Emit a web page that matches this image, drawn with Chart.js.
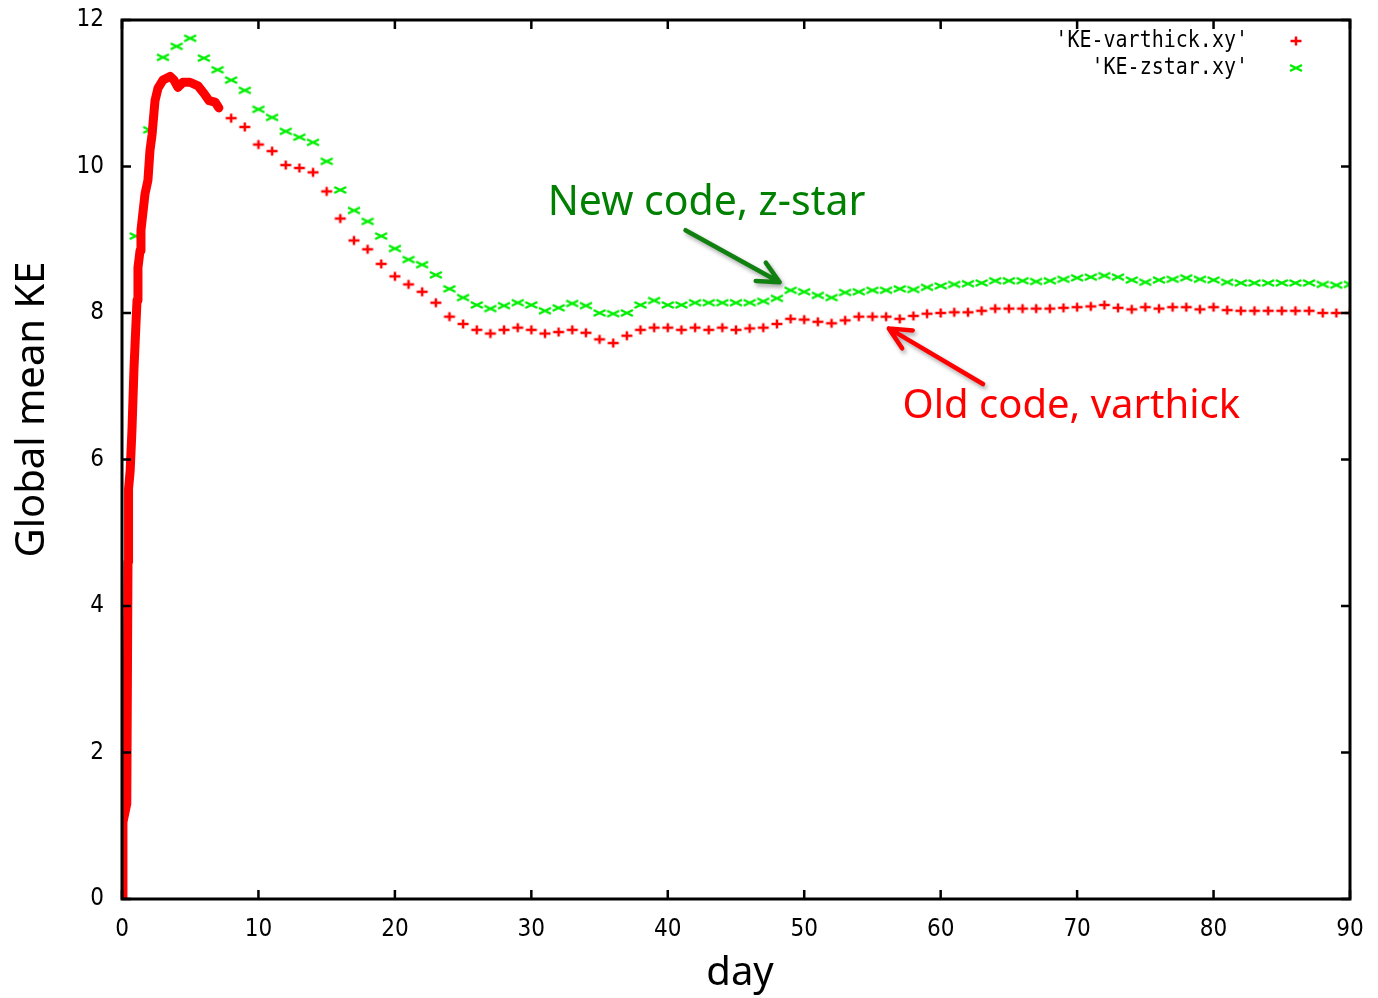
<!DOCTYPE html>
<html>
<head>
<meta charset="utf-8">
<script src="https://cdn.jsdelivr.net/npm/chart.js@4.4.1/dist/chart.umd.min.js"></script>
<style>
html, body { margin: 0; padding: 0; background: #fff; }
#wrap { width: 1378px; height: 998px; }
</style>
</head>
<body>
<div id="wrap"><canvas id="ke_chart" width="1378" height="998"></canvas></div>
<script>
// 'KE-zstar.xy' - one sample per day
const zstarDays = [1, 2, 3, 4, 5, 6, 7, 8, 9, 10, 11, 12, 13, 14, 15, 16, 17, 18, 19, 20,
    21, 22, 23, 24, 25, 26, 27, 28, 29, 30, 31, 32, 33, 34, 35, 36, 37, 38, 39, 40,
    41, 42, 43, 44, 45, 46, 47, 48, 49, 50, 51, 52, 53, 54, 55, 56, 57, 58, 59, 60,
    61, 62, 63, 64, 65, 66, 67, 68, 69, 70, 71, 72, 73, 74, 75, 76, 77, 78, 79, 80,
    81, 82, 83, 84, 85, 86, 87, 88, 89, 90];
const zstarKE = [9.05, 10.5, 11.49, 11.64, 11.75, 11.48, 11.32, 11.18, 11.04, 10.78,
    10.67, 10.48, 10.40, 10.33, 10.07, 9.68, 9.40, 9.25, 9.05, 8.88,
    8.73, 8.66, 8.52, 8.33, 8.21, 8.11, 8.06, 8.10, 8.14, 8.11,
    8.03, 8.07, 8.13, 8.10, 8.00, 7.99, 8.00, 8.11, 8.17, 8.11,
    8.11, 8.14, 8.14, 8.14, 8.14, 8.14, 8.16, 8.20, 8.31, 8.29,
    8.24, 8.21, 8.28, 8.29, 8.31, 8.31, 8.33, 8.32, 8.35, 8.37,
    8.39, 8.40, 8.41, 8.44, 8.44, 8.44, 8.43, 8.44, 8.46, 8.48,
    8.49, 8.51, 8.49, 8.45, 8.42, 8.45, 8.46, 8.48, 8.46, 8.45,
    8.42, 8.41, 8.41, 8.41, 8.41, 8.41, 8.41, 8.39, 8.38, 8.39];

// 'KE-varthick.xy' - dense output over the first week
const varthickEarlyDays = [0.05, 0.07, 0.35, 0.44, 0.48, 0.6, 0.73, 0.88, 1.1, 1.17,
    1.32, 1.39, 1.69, 1.9, 2.05, 2.2, 2.42, 2.64, 3.0, 3.52,
    3.81, 4.1, 4.47, 4.98, 5.57, 6.0, 6.38, 6.82, 7.1];
const varthickEarlyKE = [0, 1.05, 1.3, 4.6, 5.6, 5.85, 6.4, 7.25, 8.17, 8.62,
    8.85, 9.13, 9.63, 9.81, 10.22, 10.43, 10.9, 11.07, 11.18, 11.23,
    11.18, 11.08, 11.15, 11.15, 11.1, 11.0, 10.9, 10.88, 10.8];

// 'KE-varthick.xy' - daily from day 8
const varthickDays = [8, 9, 10, 11, 12, 13, 14, 15, 16, 17, 18, 19, 20,
    21, 22, 23, 24, 25, 26, 27, 28, 29, 30, 31, 32, 33, 34, 35, 36, 37, 38, 39, 40,
    41, 42, 43, 44, 45, 46, 47, 48, 49, 50, 51, 52, 53, 54, 55, 56, 57, 58, 59, 60,
    61, 62, 63, 64, 65, 66, 67, 68, 69, 70, 71, 72, 73, 74, 75, 76, 77, 78, 79, 80,
    81, 82, 83, 84, 85, 86, 87, 88, 89, 90];
const varthickKE = [10.66, 10.54, 10.30, 10.21, 10.02, 9.98, 9.92, 9.66, 9.29, 8.99, 8.87, 8.67, 8.50,
    8.39, 8.29, 8.14, 7.95, 7.85, 7.77, 7.72, 7.77, 7.80, 7.77,
    7.72, 7.74, 7.77, 7.73, 7.64, 7.59, 7.69, 7.77, 7.80, 7.80,
    7.77, 7.80, 7.77, 7.80, 7.77, 7.79, 7.80, 7.85, 7.92, 7.91,
    7.88, 7.86, 7.90, 7.95, 7.95, 7.95, 7.92, 7.96, 7.99, 8.00,
    8.01, 8.01, 8.03, 8.06, 8.06, 8.06, 8.06, 8.06, 8.07, 8.08,
    8.09, 8.11, 8.07, 8.05, 8.08, 8.06, 8.08, 8.08, 8.05, 8.08,
    8.04, 8.03, 8.03, 8.03, 8.03, 8.03, 8.03, 8.00, 8.00, 8.00];

const legendLabels = ["'KE-varthick.xy'", "'KE-zstar.xy'"];

const RED = '#ff0000';
const GREEN = '#00ee00';
const tickFont = {family: "'Liberation Sans Narrow', 'DejaVu Sans Condensed', 'Liberation Sans', sans-serif", size: 24};

function makeMarker(kind, color) {
    let c = document.createElement('canvas');
    c.width = 14;
    c.height = 12;
    let g = c.getContext('2d');
    g.strokeStyle = color;
    g.lineWidth = 2.5;
    g.beginPath();
    if (kind === 'plus') {
        g.moveTo(1.5, 6); g.lineTo(12.5, 6);
        g.moveTo(7, 1.5); g.lineTo(7, 10.5);
    } else {
        g.moveTo(1, 3); g.lineTo(13, 9);
        g.moveTo(1, 9); g.lineTo(13, 3);
    }
    g.stroke();
    return c;
}
const plusMark = makeMarker('plus', RED);
const crossMark = makeMarker('cross', GREEN);

function pairs(xs, ys) {
    return xs.map((d, i) => ({x: d, y: ys[i]}));
}

function arrow(ctx, x0, y0, x1, y1, color) {
    let ang = Math.atan2(y1 - y0, x1 - x0);
    let len = 24, spread = 0.45;
    ctx.save();
    ctx.strokeStyle = color;
    ctx.lineWidth = 4.5;
    ctx.lineCap = 'round';
    ctx.lineJoin = 'round';
    ctx.shadowColor = 'rgba(0,0,0,0.35)';
    ctx.shadowBlur = 4;
    ctx.shadowOffsetX = 2;
    ctx.shadowOffsetY = 3;
    ctx.beginPath();
    ctx.moveTo(x0, y0);
    ctx.lineTo(x1, y1);
    ctx.moveTo(x1 - len * Math.cos(ang - spread), y1 - len * Math.sin(ang - spread));
    ctx.lineTo(x1, y1);
    ctx.lineTo(x1 - len * Math.cos(ang + spread), y1 - len * Math.sin(ang + spread));
    ctx.stroke();
    ctx.restore();
}

const decor = {
    id: 'decor',
    afterDatasetsDraw(chart) {
        let ctx = chart.ctx;
        let a = chart.chartArea;
        let x = chart.scales.x, y = chart.scales.y;
        ctx.save();
        // inward ticks on all four sides
        ctx.strokeStyle = '#000';
        ctx.lineWidth = 2.5;
        ctx.beginPath();
        x.ticks.forEach(t => {
            let px = x.getPixelForValue(t.value);
            ctx.moveTo(px, a.bottom); ctx.lineTo(px, a.bottom - 9);
            ctx.moveTo(px, a.top); ctx.lineTo(px, a.top + 9);
        });
        y.ticks.forEach(t => {
            let py = y.getPixelForValue(t.value);
            ctx.moveTo(a.left, py); ctx.lineTo(a.left + 9, py);
            ctx.moveTo(a.right, py); ctx.lineTo(a.right - 9, py);
        });
        ctx.stroke();
        ctx.lineWidth = 3;
        ctx.strokeRect(a.left, a.top, a.right - a.left, a.bottom - a.top);

        // key, top right inside the frame
        ctx.fillStyle = '#000';
        ctx.font = "20px 'DejaVu Sans Mono', monospace";
        ctx.textAlign = 'right';
        ctx.textBaseline = 'middle';
        [plusMark, crossMark].forEach((m, i) => {
            let ly = a.top + 21 + i * 27;
            ctx.save();
            ctx.translate(a.right - 102, ly);
            ctx.scale(1, 1.15);
            ctx.fillText(legendLabels[i], 0, 0);
            ctx.restore();
            ctx.drawImage(m, a.right - 54 - m.width / 2, ly - m.height / 2);
        });

        // axis titles
        ctx.font = "40px 'Noto Sans', sans-serif";
        ctx.textAlign = 'center';
        ctx.fillText('day', (a.left + a.right) / 2 + 4, 974);
        ctx.save();
        ctx.translate(33, (a.top + a.bottom) / 2 - 50);
        ctx.rotate(-Math.PI / 2);
        ctx.fillText('Global mean KE', 0, 0);
        ctx.restore();

        // annotations
        ctx.textAlign = 'left';
        ctx.font = "41px 'Noto Sans', sans-serif";
        ctx.fillStyle = '#008000';
        ctx.fillText('New code, z-star', x.getPixelForValue(31.2), y.getPixelForValue(9.5));
        ctx.fillStyle = RED;
        ctx.font = "40px 'Noto Sans', sans-serif";
        ctx.fillText('Old code, varthick', x.getPixelForValue(57.2), y.getPixelForValue(6.72));
        ctx.restore();

        arrow(ctx, x.getPixelForValue(41.3), y.getPixelForValue(9.13),
            x.getPixelForValue(48.2), y.getPixelForValue(8.42), '#108010');
        arrow(ctx, x.getPixelForValue(63.1), y.getPixelForValue(7.03),
            x.getPixelForValue(56.2), y.getPixelForValue(7.79), RED);
    }
};

new Chart(document.getElementById('ke_chart'), {
    type: 'scatter',
    data: {
        datasets: [
            {
                label: legendLabels[0],
                type: 'line',
                data: pairs(varthickEarlyDays, varthickEarlyKE),
                borderColor: RED,
                borderWidth: 9,
                borderJoinStyle: 'round',
                borderCapStyle: 'round',
                pointRadius: 0,
                fill: false,
                tension: 0
            }, {
                label: legendLabels[0],
                data: pairs(varthickDays, varthickKE),
                pointStyle: plusMark,
                showLine: false
            }, {
                label: legendLabels[1],
                data: pairs(zstarDays, zstarKE),
                pointStyle: crossMark,
                showLine: false
            }
        ]
    },
    options: {
        responsive: false,
        animation: false,
        layout: {
            padding: {top: 20, right: 28, left: 0, bottom: 0}
        },
        scales: {
            x: {
                type: 'linear',
                min: 0,
                max: 90,
                ticks: {stepSize: 10, color: '#000', font: tickFont, padding: 8, maxRotation: 0},
                grid: {display: false},
                border: {display: false},
                afterFit: (s) => { s.height = 99; s.paddingLeft = 0; s.paddingRight = 0; }
            },
            y: {
                min: 0,
                max: 12,
                ticks: {stepSize: 2, color: '#000', font: tickFont, padding: 10},
                grid: {display: false},
                border: {display: false},
                afterFit: (s) => { s.width = 122; s.paddingTop = 0; s.paddingBottom = 0; }
            }
        },
        plugins: {
            legend: {display: false},
            tooltip: {enabled: false}
        }
    },
    plugins: [decor]
});
</script>
</body>
</html>
